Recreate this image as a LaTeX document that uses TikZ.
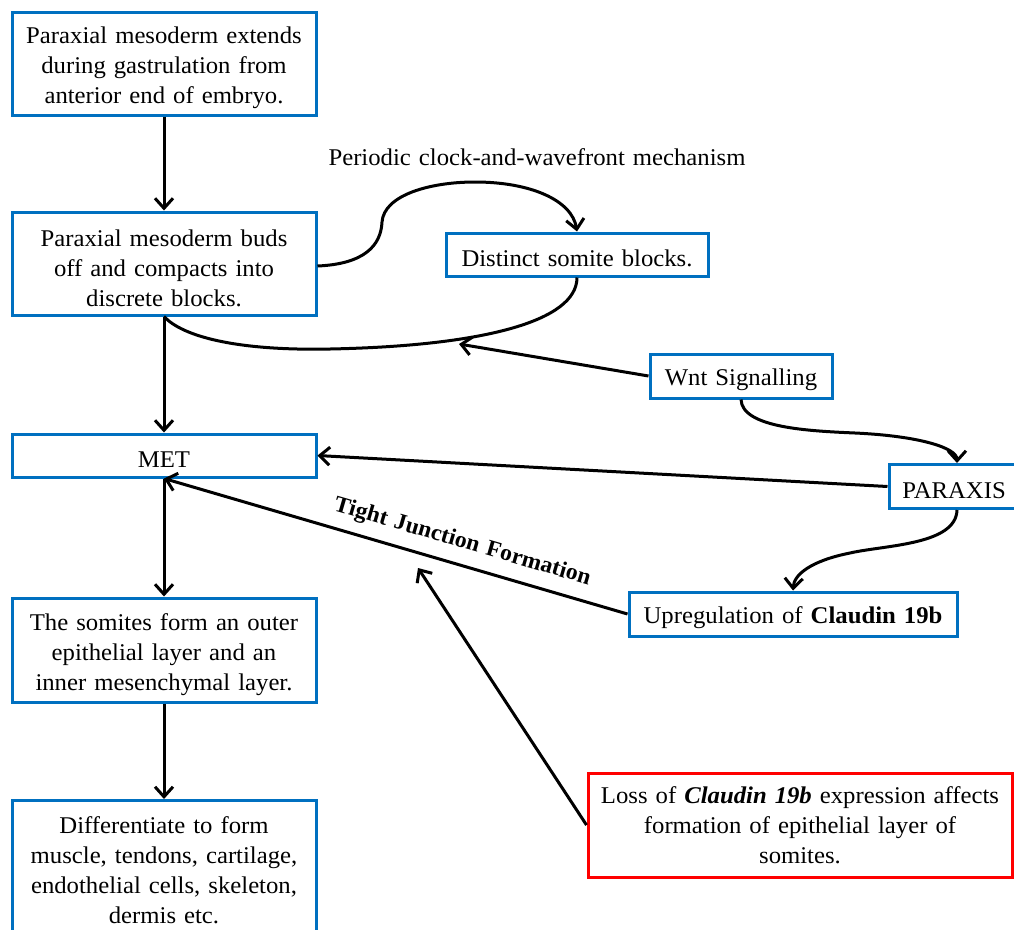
\documentclass[tikz,border=0pt]{standalone}
\usepackage{fontspec}
\setmainfont[FakeStretch=1.03,WordSpace=1.3]{Liberation Serif}
\usetikzlibrary{arrows.meta}
\definecolor{boxblue}{RGB}{0,112,192}
\definecolor{boxred}{RGB}{255,0,0}
\newcommand\firstline{\rule{0pt}{26pt}}
\begin{document}
\begin{tikzpicture}[x=1pt,y=-1pt,
  box/.style={draw=boxblue,line width=3pt,inner sep=0pt,align=center,
    font=\fontsize{24}{30}\selectfont,
    execute at begin node={\rule{0pt}{24pt}}},
  redbox/.style={box,draw=boxred},
  conn/.style={line width=3pt,-{Straight Barb[length=10pt,width=18pt,line width=3pt]}},
  plain/.style={line width=3pt},
  lbl/.style={font=\fontsize{24}{30}\selectfont}]
\useasboundingbox (0,0) rectangle (1014,929);

\node[box,minimum width=304pt,minimum height=103pt] (b1) at (164,63.5)
  {\firstline Paraxial mesoderm extends\\during gastrulation from\\anterior end of embryo.};
\node[box,minimum width=304pt,minimum height=103pt] (b2) at (164,263.5)
  {\firstline Paraxial mesoderm buds\\off and compacts into\\discrete blocks.};
\node[box,minimum width=262pt,minimum height=43pt] (dist) at (577,254.5)
  {Distinct somite blocks.};
\node[box,minimum width=182pt,minimum height=44pt] (wnt) at (741,376)
  {Wnt Signalling};
\node[box,minimum width=304pt,minimum height=43pt] (met) at (164,455.5)
  {MET};
\node[box,minimum width=130pt,minimum height=44pt] (par) at (954,486.5)
  {PARAXIS};
\node[box,minimum width=328pt,minimum height=44pt] (up) at (793,614)
  {Upregulation of \textbf{Claudin 19b}};
\node[box,minimum width=304pt,minimum height=104pt] (som) at (164,650)
  {\firstline The somites form an outer\\epithelial layer and an\\inner mesenchymal layer.};
\node[redbox,minimum width=424pt,minimum height=104pt] (red) at (800,825)
  {Loss of \textbf{\textit{Claudin 19b}} expression affects\\formation of epithelial layer of\\somites.};
\node[box,minimum width=304pt,minimum height=140pt,anchor=north] (diff) at (164,799)
  {Differentiate to form\\muscle, tendons, cartilage,\\endothelial cells, skeleton,\\dermis etc.};

\node[lbl] (clock) at (537,157) {Periodic clock-and-wavefront mechanism};

\coordinate (wntTip) at (459,344);
\coordinate (redTip) at (418,568);

% vertical chain
\draw[conn] (b1.south) -- (b2.north);
\draw[conn] (b2.south) -- (met.north);
\draw[conn] (met.south) -- (som.north);
\draw[conn] (som.south) -- (diff.north);

% clock-and-wavefront loop
\draw[conn] (b2.east |- 0,266) .. controls (365,264) and (381,245) .. (382,222)
  .. controls (384,195) and (430,182) .. (475,182)
  .. controls (530,182) and (572,200) .. (dist.north);
\draw[plain] (dist.south) .. controls (577,322) and (480,346) .. (330,349)
  .. controls (235,351) and (182,336) .. (b2.south);

% Wnt
\draw[conn] (wnt.west) -- (wntTip);
\draw[conn] (wnt.south) .. controls (742,428) and (810,431) .. (855,433)
  .. controls (920,436) and (957,448) .. (par.north -| 957,0);

% PARAXIS
\draw[conn] (par.west) -- (met.east);
\draw[conn] (par.south -| 957,0) .. controls (956,545) and (885,545) .. (850,553)
  .. controls (810,561) and (794,575) .. (up.north);

% Tight junction
\draw[conn] (up.west) -- node[pos=0.37,above=7pt,sloped,font=\fontsize{23}{26}\selectfont\bfseries] {Tight Junction Formation} (met.south);

% Loss of Claudin
\draw[conn] (red.west) -- (redTip);
\end{tikzpicture}
\end{document}
